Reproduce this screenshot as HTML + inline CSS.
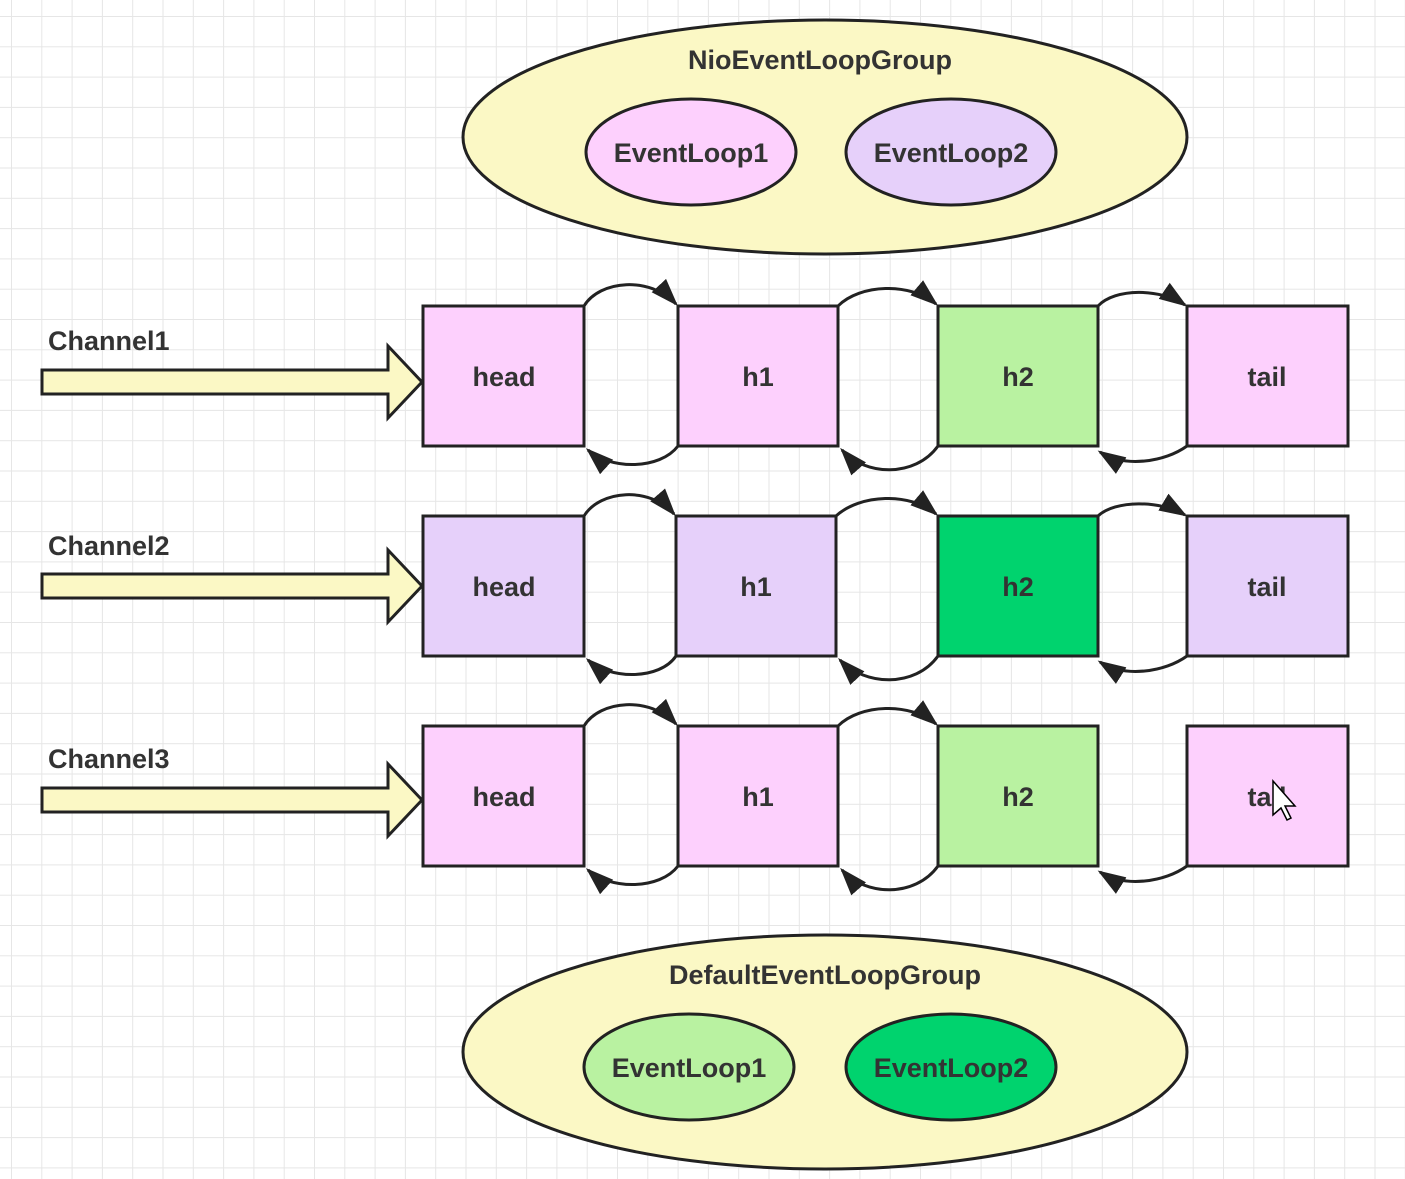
<!DOCTYPE html>
<html><head><meta charset="utf-8"><style>
html,body{margin:0;padding:0;background:#fff}
svg{display:block}
text{font-family:"Liberation Sans",sans-serif;font-weight:bold;fill:#333;font-size:27px}
</style></head><body>
<svg width="1405" height="1179" viewBox="0 0 1405 1179" xmlns="http://www.w3.org/2000/svg">
<defs>
<pattern id="g" x="11" y="16" width="30.3" height="30.3" patternUnits="userSpaceOnUse">
<path d="M0 0H30.3M0 0V30.3" stroke="#e6e6e6" stroke-width="2" fill="none"/>
</pattern>
<marker id="b" viewBox="0 0 10 10" refX="9" refY="5" markerWidth="28" markerHeight="28" markerUnits="userSpaceOnUse" orient="auto">
<path d="M0 1.5L10 5L0 8.5z" fill="#222"/>
</marker>
</defs>
<rect width="1405" height="1179" fill="url(#g)"/>

<ellipse cx="825" cy="137" rx="362" ry="117" fill="#fbf8c5" stroke="#222" stroke-width="3"/>
<text x="820" y="69" text-anchor="middle">NioEventLoopGroup</text>
<ellipse cx="691" cy="152" rx="105" ry="53" fill="#fdd0fd" stroke="#222" stroke-width="3"/>
<text x="691" y="162" text-anchor="middle">EventLoop1</text>
<ellipse cx="951" cy="152" rx="105" ry="53" fill="#e6d0fa" stroke="#222" stroke-width="3"/>
<text x="951" y="162" text-anchor="middle">EventLoop2</text>

<ellipse cx="825" cy="1052" rx="362" ry="117" fill="#fbf8c5" stroke="#222" stroke-width="3"/>
<text x="825" y="984" text-anchor="middle">DefaultEventLoopGroup</text>
<ellipse cx="689" cy="1067" rx="105" ry="53" fill="#b9f2a1" stroke="#222" stroke-width="3"/>
<text x="689" y="1077" text-anchor="middle">EventLoop1</text>
<ellipse cx="951" cy="1067" rx="105" ry="53" fill="#00d36e" stroke="#222" stroke-width="3"/>
<text x="951" y="1077" text-anchor="middle">EventLoop2</text>

<g fill="#fbf8c5" stroke="#222" stroke-width="3">
<path d="M42 370H388V346L422 382L388 418V394H42Z"/>
<path d="M42 574H388V550L422 586L388 622V598H42Z"/>
<path d="M42 788H388V764L422 800L388 836V812H42Z"/>
</g>
<text x="48" y="350">Channel1</text>
<text x="48" y="555">Channel2</text>
<text x="48" y="768">Channel3</text>

<g stroke="#222" stroke-width="3">
<rect x="423" y="306" width="161" height="140" fill="#fdd0fd"/>
<rect x="678" y="306" width="160" height="140" fill="#fdd0fd"/>
<rect x="938" y="306" width="160" height="140" fill="#b9f2a1"/>
<rect x="1187" y="306" width="161" height="140" fill="#fdd0fd"/>

<rect x="423" y="516" width="161" height="140" fill="#e6d0fa"/>
<rect x="676" y="516" width="160" height="140" fill="#e6d0fa"/>
<rect x="938" y="516" width="160" height="140" fill="#00d36e"/>
<rect x="1187" y="516" width="161" height="140" fill="#e6d0fa"/>

<rect x="423" y="726" width="161" height="140" fill="#fdd0fd"/>
<rect x="678" y="726" width="160" height="140" fill="#fdd0fd"/>
<rect x="938" y="726" width="160" height="140" fill="#b9f2a1"/>
<rect x="1187" y="726" width="161" height="140" fill="#fdd0fd"/>
</g>
<g text-anchor="middle">
<text x="504" y="386">head</text><text x="758" y="386">h1</text><text x="1018" y="386">h2</text><text x="1267" y="386">tail</text>
<text x="504" y="596">head</text><text x="756" y="596">h1</text><text x="1018" y="596">h2</text><text x="1267" y="596">tail</text>
<text x="504" y="806">head</text><text x="758" y="806">h1</text><text x="1018" y="806">h2</text><text x="1267" y="806">tail</text>
</g>

<g fill="none" stroke="#222" stroke-width="3" marker-end="url(#b)">
<path d="M584 306C600 280 650 276 676 304"/>
<path d="M678 446C660 470 610 470 588 450"/>
<path d="M838 306C860 284 910 282 936 304"/>
<path d="M938 446C915 478 865 476 842 450"/>
<path d="M1098 306C1115 288 1160 288 1185 305"/>
<path d="M1187 446C1165 462 1125 468 1100 452"/>
<path d="M584 516C600 490 650 486 674 514"/>
<path d="M676 656C660 680 610 680 588 660"/>
<path d="M836 516C860 494 910 492 936 514"/>
<path d="M938 656C915 688 865 686 840 660"/>
<path d="M1098 516C1115 500 1160 500 1185 515"/>
<path d="M1187 656C1165 672 1125 678 1100 662"/>
<path d="M584 726C600 700 650 696 676 724"/>
<path d="M678 866C660 890 610 890 588 870"/>
<path d="M838 726C860 704 910 702 936 724"/>
<path d="M938 866C915 898 865 896 842 870"/>
<path d="M1187 866C1165 882 1125 888 1100 872"/>
</g>

<path d="M1273 781V815L1281 808L1287 820L1291 818L1285 806L1295 806Z" fill="#fff" stroke="#000" stroke-width="1.5"/>
</svg>
</body></html>
